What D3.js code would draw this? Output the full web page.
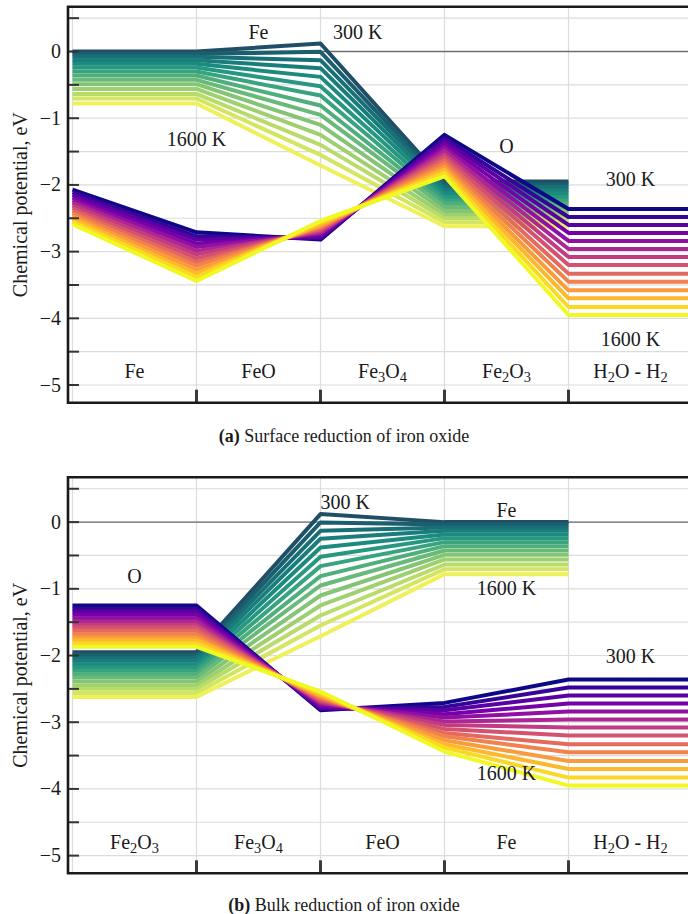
<!DOCTYPE html>
<html>
<head>
<meta charset="utf-8">
<script src="https://cdn.jsdelivr.net/npm/d3@7"></script>
<style>
  body { margin: 0; background: #fff; }
  svg { display: block; }
  text { font-family: "Liberation Serif", "DejaVu Serif", serif; fill: #1a1a1a; }
</style>
</head>
<body>
<svg id="chart" width="688" height="914"></svg>
<script>
// Temperatures of the H2O/H2 reservoir (K)
const temperatures = [300, 400, 500, 600, 700, 800, 900, 1000, 1100, 1200, 1300, 1400, 1500, 1600];

// Chemical potential of Fe (eV)
const muFeMetal   = [0.00, -0.035, -0.08, -0.13, -0.185, -0.24, -0.30, -0.36, -0.425, -0.49, -0.56, -0.635, -0.705, -0.78];
const muFeWustite = [0.12, -0.005, -0.13, -0.25, -0.38, -0.52, -0.66, -0.81, -0.95, -1.10, -1.25, -1.40, -1.55, -1.71];
const muFeHematite = [-1.95, -1.99, -2.03, -2.08, -2.13, -2.18, -2.23, -2.28, -2.33, -2.39, -2.45, -2.50, -2.56, -2.62];

// Chemical potential of O (eV)
const muOMetal     = [-2.07, -2.11, -2.15, -2.19, -2.23, -2.27, -2.31, -2.35, -2.39, -2.43, -2.47, -2.51, -2.55, -2.59];
const muOFeO       = [-2.71, -2.77, -2.82, -2.88, -2.93, -2.99, -3.04, -3.10, -3.16, -3.21, -3.27, -3.33, -3.38, -3.44];
const muOFe3O4     = [-2.82, -2.80, -2.78, -2.76, -2.73, -2.71, -2.69, -2.67, -2.65, -2.63, -2.61, -2.59, -2.56, -2.54];
const muOFe2O3     = [-1.25, -1.30, -1.34, -1.39, -1.44, -1.49, -1.54, -1.58, -1.63, -1.68, -1.73, -1.77, -1.82, -1.87];
const muOGas       = [-2.36, -2.48, -2.60, -2.72, -2.84, -2.96, -3.08, -3.20, -3.33, -3.45, -3.58, -3.70, -3.83, -3.95];

// Phase regions along the reduction path ("_n" marks a subscript)
const surfaceCategories = ["Fe", "FeO", "Fe_3O_4", "Fe_2O_3", "H_2O - H_2"];
const bulkCategories    = ["Fe_2O_3", "Fe_3O_4", "FeO", "Fe", "H_2O - H_2"];

// Sequences of boundary values for each panel
const surfaceFe = [muFeMetal, muFeMetal, muFeWustite, muFeHematite, muFeHematite];
const surfaceO  = [muOMetal, muOFeO, muOFe3O4, muOFe2O3, muOGas, muOGas];
const bulkFe    = [muFeHematite, muFeHematite, muFeWustite, muFeMetal, muFeMetal];
const bulkO     = [muOFe2O3, muOFe2O3, muOFe3O4, muOFeO, muOGas, muOGas];

const yTicks = [-5, -4.5, -4, -3.5, -3, -2.5, -2, -1.5, -1, -0.5, 0, 0.5];
const yTickLabels = ["\u22125", "", "\u22124", "", "\u22123", "", "\u22122", "", "\u22121", "", "0", ""];

const panels = [
  {
    top: 6.7, bottom: 402.7,
    fe: surfaceFe, o: surfaceO, categories: surfaceCategories,
    captionTag: "(a)", caption: " Surface reduction of iron oxide", captionY: 442,
    notes: [
      { text: "Fe", x: 1.5, y: 0.28 }, { text: "300 K", x: 2.3, y: 0.28 },
      { text: "1600 K", x: 1.0, y: -1.32 }, { text: "O", x: 3.5, y: -1.42 },
      { text: "300 K", x: 4.5, y: -1.91 }, { text: "1600 K", x: 4.5, y: -4.31 }
    ]
  },
  {
    top: 477.3, bottom: 873.3,
    fe: bulkFe, o: bulkO, categories: bulkCategories,
    captionTag: "(b)", caption: " Bulk reduction of iron oxide", captionY: 911,
    notes: [
      { text: "300 K", x: 2.2, y: 0.30 }, { text: "Fe", x: 3.5, y: 0.18 },
      { text: "O", x: 0.5, y: -0.82 }, { text: "1600 K", x: 3.5, y: -1.0 },
      { text: "300 K", x: 4.5, y: -2.02 }, { text: "1600 K", x: 3.5, y: -3.76 }
    ]
  }
];

const svg = d3.select("#chart");
const left = 68, right = 697;
const x = d3.scaleLinear().domain([0, 5]).range([72.5, 692.5]);

const feColor = d3.scaleSequential(
  d3.interpolateRgbBasis(["#1f4f66", "#157a7c", "#1f9a82", "#63b87a", "#a9d46e", "#eef15a"])
).domain([300, 1600]);
const oColor = d3.scaleSequential(d3.interpolatePlasma).domain([300, 1600]);

function addLabel(sel, label, size) {
  const parts = label.split(/(_\d)/).filter(s => s.length);
  let shifted = false;
  parts.forEach(p => {
    if (p[0] === "_") {
      sel.append("tspan").attr("font-size", size * 0.72).attr("dy", 4).text(p.slice(1));
      shifted = true;
    } else {
      sel.append("tspan").attr("dy", shifted ? -4 : 0).text(p);
      shifted = false;
    }
  });
}

panels.forEach(p => {
  const y = d3.scaleLinear().domain([-5.265, 0.672]).range([p.bottom, p.top]);
  const g = svg.append("g");
  const clipId = "clip" + Math.round(p.top);
  svg.append("clipPath").attr("id", clipId)
    .append("rect").attr("x", left).attr("y", p.top).attr("width", right - left).attr("height", p.bottom - p.top);

  const plot = g.append("g").attr("clip-path", `url(#${clipId})`);

  // grid
  plot.selectAll(".hg").data(yTicks).join("line")
    .attr("x1", left).attr("x2", right)
    .attr("y1", d => y(d)).attr("y2", d => y(d))
    .attr("stroke", "#dcdcdc").attr("stroke-width", 1.2);
  plot.selectAll(".vg").data(d3.range(6)).join("line")
    .attr("x1", d => x(d)).attr("x2", d => x(d))
    .attr("y1", p.top).attr("y2", p.bottom)
    .attr("stroke", "#dcdcdc").attr("stroke-width", 1.2);

  // reference level
  plot.append("line").attr("x1", left).attr("x2", right)
    .attr("y1", y(0)).attr("y2", y(0))
    .attr("stroke", "#6e6e6e").attr("stroke-width", 1.4);

  const line = d3.line().x(d => x(d[0])).y(d => y(d[1]));

  temperatures.forEach((t, k) => {
    plot.append("path")
      .datum(p.fe.map((arr, i) => [i, arr[k]]))
      .attr("d", line).attr("fill", "none")
      .attr("stroke", feColor(t)).attr("stroke-width", 4)
      .attr("stroke-linejoin", "round").attr("stroke-linecap", "butt");
  });
  temperatures.forEach((t, k) => {
    plot.append("path")
      .datum(p.o.map((arr, i) => [i, arr[k]]))
      .attr("d", line).attr("fill", "none")
      .attr("stroke", oColor(t)).attr("stroke-width", 4)
      .attr("stroke-linejoin", "round").attr("stroke-linecap", "butt");
  });

  // annotations
  p.notes.forEach(n => {
    g.append("text").attr("x", x(n.x)).attr("y", y(n.y) + 6.6)
      .attr("text-anchor", "middle").attr("font-size", 20).text(n.text);
  });

  // phase labels
  p.categories.forEach((c, i) => {
    const t = g.append("text").attr("x", x(i + 0.5)).attr("y", y(-4.8) + 6.6)
      .attr("text-anchor", "middle").attr("font-size", 20);
    addLabel(t, c, 20);
  });

  // y ticks
  g.selectAll(".yt").data(yTicks).join("line")
    .attr("x1", left).attr("x2", left + 11)
    .attr("y1", d => y(d)).attr("y2", d => y(d))
    .attr("stroke", "#333").attr("stroke-width", 2);
  g.selectAll(".yl").data(yTicks).join("text")
    .attr("x", 61).attr("y", d => y(d) + 6.5)
    .attr("text-anchor", "end").attr("font-size", 20)
    .text((d, i) => yTickLabels[i]);

  // x ticks at phase boundaries
  g.selectAll(".xt").data([1, 2, 3, 4]).join("line")
    .attr("x1", d => x(d)).attr("x2", d => x(d))
    .attr("y1", p.bottom).attr("y2", p.bottom - 13)
    .attr("stroke", "#3a3a3a").attr("stroke-width", 3);

  // frame
  g.append("path")
    .attr("d", `M${right},${p.top}H${left}V${p.bottom}H${right}`)
    .attr("fill", "none").attr("stroke", "#1a1a1a").attr("stroke-width", 2.6);

  // axis title
  g.append("text")
    .attr("transform", `translate(27,${(p.top + p.bottom) / 2}) rotate(-90)`)
    .attr("text-anchor", "middle").attr("font-size", 20)
    .text("Chemical potential, eV");

  // caption
  const cap = g.append("text").attr("x", 344).attr("y", p.captionY)
    .attr("text-anchor", "middle").attr("font-size", 18);
  cap.append("tspan").attr("font-weight", "bold").text(p.captionTag);
  cap.append("tspan").text(p.caption);
});
</script>
</body>
</html>
